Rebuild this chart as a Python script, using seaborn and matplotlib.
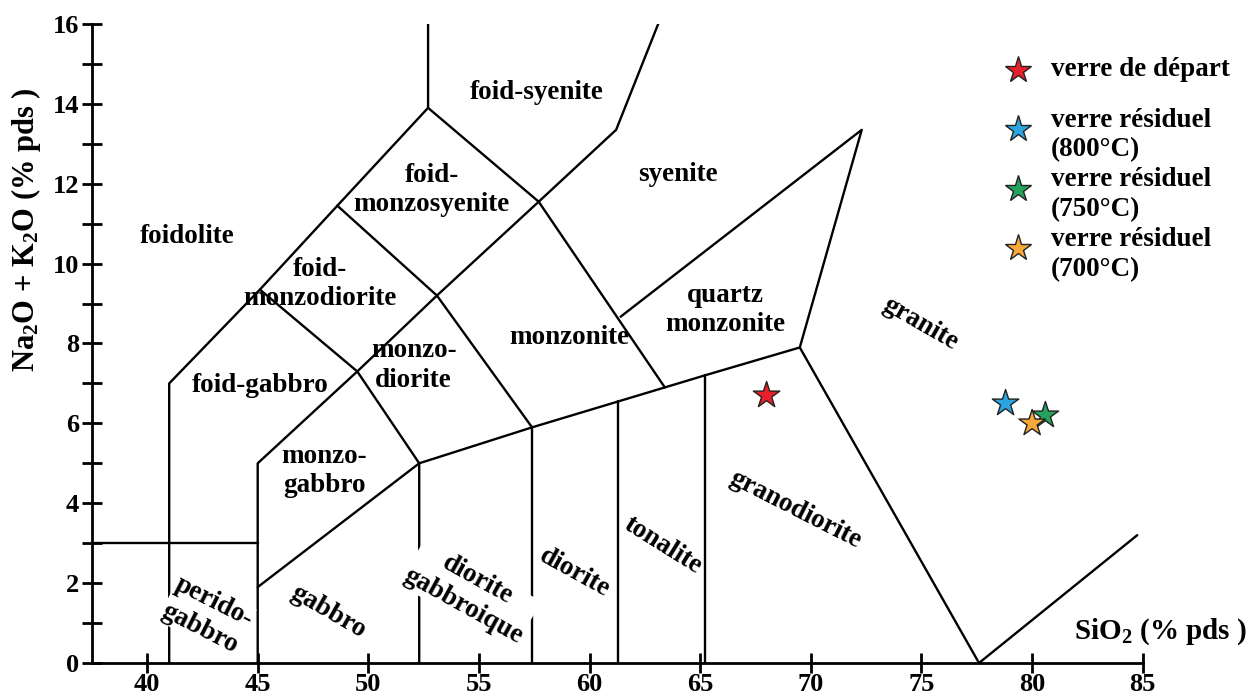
import matplotlib
matplotlib.use("Agg")
import matplotlib.pyplot as plt
import seaborn as sns
import pandas as pd

# --- sample compositions (SiO2, Na2O+K2O, wt %) ---
sample_names = ["verre de départ",
                "verre résiduel\n(800°C)",
                "verre résiduel\n(750°C)",
                "verre résiduel\n(700°C)"]
sio2 = [68.0, 78.8, 80.6, 80.0]
alkali = [6.7, 6.5, 6.2, 6.0]
sample_colors = ["#e8202b", "#2ba4e0", "#25a35c", "#f7aa3a"]

# --- field boundaries of the plutonic TAS diagram (SiO2, Na2O+K2O) ---
boundaries = {
    "peridogabbro_top": ([37.5, 45.0], [3.0, 3.0]),
    "foid_left": ([41.0, 41.0, 45.1, 48.6, 52.7, 52.7],
                  [0.0, 7.0, 9.35, 11.45, 13.9, 16.0]),
    "foid_right": ([45.0, 45.0, 49.5, 53.1, 57.7, 61.2, 63.1],
                   [0.0, 5.0, 7.3, 9.2, 11.55, 13.35, 16.0]),
    "gabbro_top": ([45.0, 52.3], [1.9, 5.0]),
    "subalkaline": ([52.3, 52.3, 57.4, 61.3, 63.4, 65.2, 69.5, 77.6, 84.75],
                    [0.0, 5.0, 5.9, 6.55, 6.9, 7.2, 7.9, 0.0, 3.2]),
    "monzogabbro_top": ([45.1, 49.5, 52.3], [9.35, 7.3, 5.0]),
    "monzodiorite_top": ([48.6, 53.1, 57.4], [11.45, 9.2, 5.9]),
    "monzonite_top": ([52.7, 57.7, 63.4], [13.9, 11.55, 6.9]),
    "diorite_left": ([57.4, 57.4], [0.0, 5.9]),
    "tonalite_left": ([61.3, 61.3], [0.0, 6.55]),
    "granodiorite_left": ([65.2, 65.2], [0.0, 7.2]),
    "quartz_monzonite": ([61.4, 72.3, 69.5], [8.67, 13.35, 7.9]),
}

# --- field names: (text, SiO2, Na2O+K2O, rotation, masked background) ---
field_labels = [
    ("foidolite", 41.8, 10.67, 0, False),
    ("foid-syenite", 57.6, 14.28, 0, False),
    ("foid-\nmonzosyenite", 52.85, 11.84, 0, False),
    ("syenite", 64.0, 12.22, 0, False),
    ("foid-\nmonzodiorite", 47.8, 9.49, 0, False),
    ("quartz\nmonzonite", 66.15, 8.84, 0, False),
    ("monzonite", 59.1, 8.14, 0, False),
    ("granite", 74.95, 8.5, -30, False),
    ("foid-gabbro", 45.1, 6.96, 0, False),
    ("monzo-\ndiorite", 52.05, 7.44, 0, False),
    ("monzo-\ngabbro", 48.0, 4.81, 0, False),
    ("perido-\ngabbro", 42.7, 1.2, -27, True),
    ("gabbro", 48.2, 1.28, -30, False),
    ("diorite\ngabbroique", 54.6, 1.75, -29, True),
    ("diorite", 59.3, 2.25, -29, False),
    ("tonalite", 63.3, 2.95, -32, False),
    ("granodiorite", 69.3, 3.83, -27, False),
]

x_ticks = [40, 45, 50, 55, 60, 65, 70, 75, 80, 85]
y_ticks = [0, 2, 4, 6, 8, 10, 12, 14, 16]
y_minor = [1, 3, 5, 7, 9, 11, 13, 15]

sns.set_theme(style="white")
plt.rcParams["font.family"] = ["Liberation Serif", "DejaVu Serif"]
plt.rcParams["font.weight"] = "bold"
plt.rcParams["text.color"] = "black"
plt.rcParams["axes.labelcolor"] = "black"
plt.rcParams["xtick.color"] = "black"
plt.rcParams["ytick.color"] = "black"
plt.rcParams["mathtext.fontset"] = "custom"
plt.rcParams["mathtext.rm"] = "Liberation Serif:bold"
plt.rcParams["mathtext.it"] = "Liberation Serif:bold:italic"
plt.rcParams["mathtext.bf"] = "Liberation Serif:bold"

fig = plt.figure(figsize=(12.5, 6.97), dpi=100)
ax = fig.add_axes([0.0734, 0.0488, 0.8408, 0.9168])

for name, (bx, by) in boundaries.items():
    sns.lineplot(x=bx, y=by, sort=False, estimator=None, color="black",
                 linewidth=1.7, ax=ax, zorder=2)

for text, lx, ly, rot, masked in field_labels:
    kw = {}
    if masked:
        kw["bbox"] = dict(facecolor="white", edgecolor="none", pad=0)
    ax.text(lx, ly, text, ha="center", va="center", rotation=rot,
            rotation_mode="anchor", fontsize=19.5, fontweight="bold",
            linespacing=1.25, color="black", zorder=3, **kw)

samples = pd.DataFrame({"SiO2": sio2, "alk": alkali, "sample": sample_names})
sns.scatterplot(data=samples, x="SiO2", y="alk", hue="sample",
                hue_order=sample_names, palette=sample_colors, marker="*",
                s=400, edgecolor="#222222", linewidth=1.0, ax=ax, zorder=5)

ax.set_xlim(37.5, 85.0)
ax.set_ylim(0, 16)
ax.set_xticks(x_ticks)
ax.set_yticks(y_ticks)
ax.set_yticks(y_minor, minor=True)
ax.tick_params(axis="both", which="both", direction="inout", length=14,
               width=2.0, color="black", labelcolor="black", labelsize=19,
               left=True, bottom=True, pad=2)
ax.tick_params(axis="x", pad=0.5)
for lab in ax.get_xticklabels() + ax.get_yticklabels():
    lab.set_fontweight("bold")

for side in ("top", "right"):
    ax.spines[side].set_visible(False)
for side in ("left", "bottom"):
    ax.spines[side].set_color("black")
    ax.spines[side].set_linewidth(2.0)
    ax.spines[side].set_zorder(4)
ax.spines["bottom"].set_bounds(37.5, 85.0)
ax.spines["left"].set_bounds(0, 16)
ax.patch.set_alpha(0)

ax.set_xlabel("SiO$_2$ (% pds )", fontsize=21, fontweight="bold",
              ha="center", va="center")
ax.xaxis.set_label_coords(1.017, 0.049)
ax.set_ylabel("Na$_2$O + K$_2$O (% pds )", fontsize=22, fontweight="bold",
              ha="center", va="center")
ax.yaxis.set_label_coords(-0.0625, 0.678)

# legend: starting glass on its own, then the three residual glasses
seaborn_legend = ax.get_legend()
handles = list(seaborn_legend.legend_handles)
labels = [t.get_text() for t in seaborn_legend.get_texts()]
seaborn_legend.remove()

legend_style = dict(loc="center left", bbox_transform=fig.transFigure,
                    frameon=False, handlelength=1.0, handletextpad=0.7,
                    borderpad=0, borderaxespad=0,
                    prop={"weight": "bold", "size": 19.5})
first = ax.legend(handles[:1], labels[:1], bbox_to_anchor=(0.8036, 0.900),
                  **legend_style)
ax.add_artist(first)
rest = ax.legend(handles[1:], labels[1:], bbox_to_anchor=(0.8036, 0.7205),
                 labelspacing=0.18, handleheight=2.0, **legend_style)
for lg in (first, rest):
    for t in lg.get_texts():
        t.set_color("black")
        t.set_linespacing(1.25)
    # center each marker on its (possibly two-line) label
    for col in lg._legend_handle_box.get_children():
        for item in col.get_children():
            item.align = "center"

fig.savefig("out.png", dpi=100, facecolor="white")
